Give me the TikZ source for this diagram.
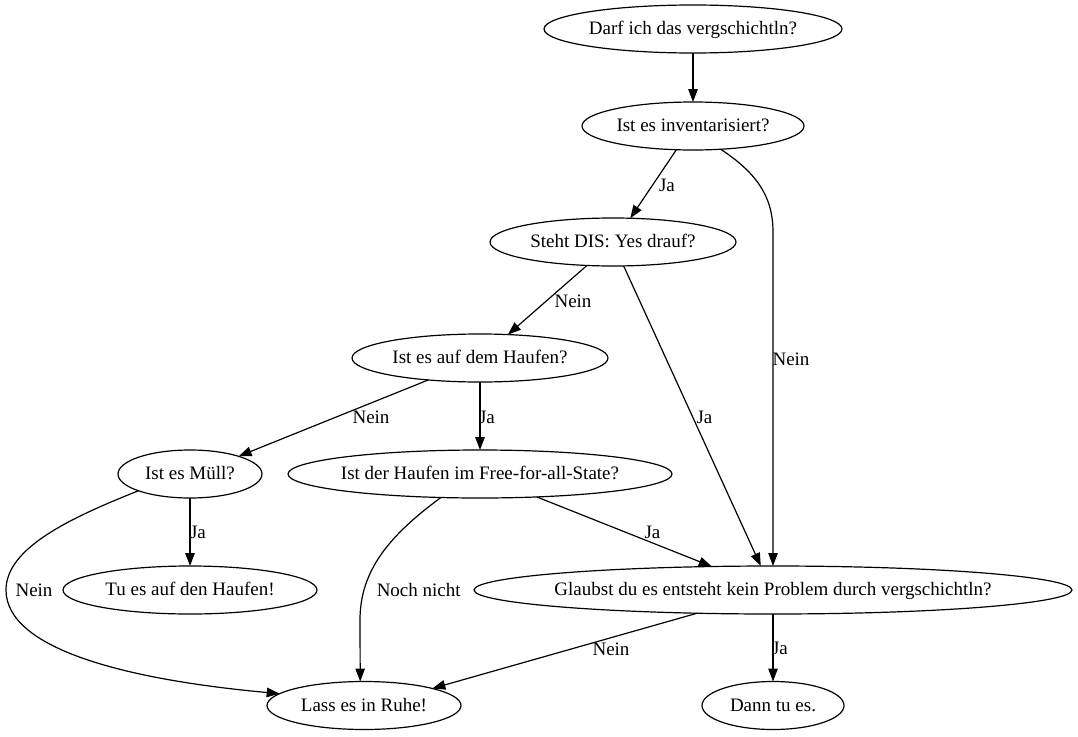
\documentclass[tikz,border=0pt]{standalone}
\usepackage{fontspec}
\setmainfont{Liberation Serif}
\usetikzlibrary{shapes.geometric,arrows.meta}
\begin{document}
\begin{tikzpicture}[x=1pt,y=-1pt,
  q/.style={draw, ellipse, line width=1.2pt, inner xsep=-40pt, inner ysep=0pt,
    outer sep=0pt, minimum height=48pt, text height=14pt, text depth=3pt,
    font=\fontsize{19}{22}\selectfont},
  edge/.style={line width=1.2pt, -{Triangle[length=13pt,width=9.5pt]}},
  lbl/.style={anchor=base, inner sep=0pt, font=\fontsize{19}{22}\selectfont}]
\useasboundingbox (0,0) rectangle (1078,736);

% decision nodes
\node[q, minimum width=298pt] (n1)  at (693,29)    {Darf ich das vergschichtln?};
\node[q, minimum width=222pt] (n2)  at (693,126)   {Ist es inventarisiert?};
\node[q, minimum width=246pt] (n3)  at (613,242)   {Steht DIS: Yes drauf?};
\node[q, minimum width=256pt] (n4)  at (480,358)   {Ist es auf dem Haufen?};
\node[q, minimum width=144pt] (n5)  at (190,474)   {Ist es Müll?};
\node[q, minimum width=384pt] (n6)  at (480,474)   {Ist der Haufen im Free-for-all-State?};
\node[q, minimum width=254pt] (n7)  at (190,590)   {Tu es auf den Haufen!};
\node[q, minimum width=598pt] (n8)  at (773,590)   {Glaubst du es entsteht kein Problem durch vergschichtln?};
\node[q, minimum width=194pt] (n9)  at (364,705.5) {Lass es in Ruhe!};
\node[q, minimum width=142pt] (n10) at (773,705.5) {Dann tu es.};

% connectors
\draw[edge] (n1.south) -- (n2.north);
\draw[edge] (n2.-125) -- (n3.54);
\draw[edge] (n2.-40) .. controls (755,172) and (773,195) .. (773,232) -- (n8.north);
\draw[edge] (n3.-138) -- (n4.40);
\draw[edge] (n3.-66) -- (n8.117);
\draw[edge] (n4.203) -- (n5.20);
\draw[edge] (n4.south) -- (n6.north);
\draw[edge] (n5.south) -- (n7.north);
\draw[edge] (n5.198) .. controls (70,518) and (6,548) .. (6,590)
                     .. controls (6,650) and (130,680) .. (n9.172);
\draw[edge] (n6.211) .. controls (390,535) and (360,570) .. (360,620) -- (n9.99);
\draw[edge] (n6.-22) -- (n8.159);
\draw[edge] (n8.197) -- (n9.14);
\draw[edge] (n8.south) -- (n10.north);

% connector labels
\node[lbl] (l23)  at (667,191)   {Ja};
\node[lbl] (l28)  at (791,365)   {Nein};
\node[lbl] (l34)  at (573,307)   {Nein};
\node[lbl] (l38)  at (704.5,423) {Ja};
\node[lbl] (l45)  at (371,423)   {Nein};
\node[lbl] (l46)  at (487,423)   {Ja};
\node[lbl] (l57)  at (198,538)   {Ja};
\node[lbl] (l59)  at (34,596)    {Nein};
\node[lbl] (l69)  at (418.7,596) {Noch nicht};
\node[lbl] (l68)  at (652.5,538) {Ja};
\node[lbl] (l89)  at (611,655)   {Nein};
\node[lbl] (l810) at (780,654)   {Ja};
\end{tikzpicture}
\end{document}
